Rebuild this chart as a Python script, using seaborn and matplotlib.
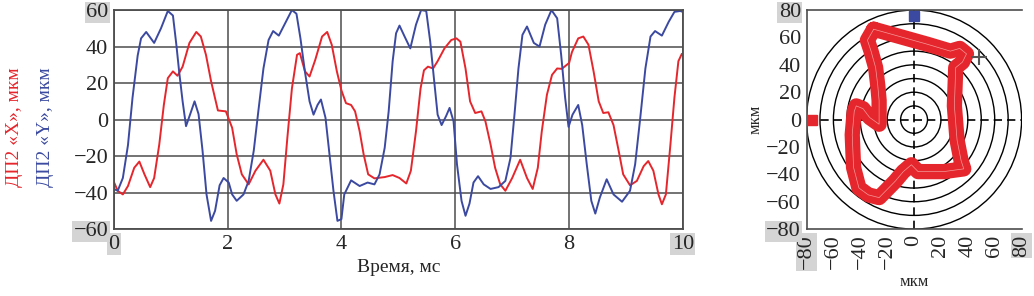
import matplotlib
matplotlib.use("Agg")
import matplotlib.pyplot as plt
from matplotlib.patches import Circle
import seaborn as sns

# left panel: sensor signals vs time (ms), values in um
t_red = [0, 0.07, 0.16, 0.25, 0.36, 0.45, 0.54, 0.64, 0.71, 0.80, 0.88, 0.95, 1.04, 1.12, 1.21,
         1.33, 1.45, 1.53, 1.62, 1.71, 1.83, 1.97, 2.08, 2.16, 2.25, 2.37, 2.49, 2.63, 2.75, 2.84,
         2.91, 2.98, 3.05, 3.13, 3.22, 3.27, 3.36, 3.44, 3.54, 3.66, 3.75, 3.83, 3.92, 4.0, 4.08,
         4.17, 4.24, 4.32, 4.39, 4.47, 4.58, 4.76, 4.90, 5.02, 5.14, 5.22, 5.31, 5.39, 5.45, 5.52,
         5.61, 5.69, 5.81, 5.93, 6.02, 6.09, 6.18, 6.26, 6.35, 6.46, 6.53, 6.62, 6.70, 6.79, 6.88,
         7.00, 7.14, 7.26, 7.36, 7.45, 7.52, 7.61, 7.70, 7.79, 7.87, 8.0, 8.05, 8.16, 8.25, 8.34,
         8.43, 8.52, 8.60, 8.69, 8.78, 8.87, 8.95, 9.07, 9.19, 9.31, 9.39, 9.48, 9.57, 9.63, 9.70,
         9.78, 9.85, 9.92, 9.98]
x_red = [-34, -39, -41, -36.4, -26.4, -23, -30, -37, -32, -13.6, 8, 22.7, 26.4, 24, 29,
         42, 48, 45.5, 35.5, 21, 5, 4.5, -4.5, -19, -30, -35.5, -28, -22, -28, -41,
         -46, -35.5, -10, 17, 35.5, 36.4, 26.4, 23.6, 32.7, 45.5, 48, 41, 26.4, 16, 9,
         8, 4.5, -6.4, -19, -30, -32.2, -31.5, -30.4, -32, -35, -28, -6.4, 17, 27, 29,
         28, 32, 39, 43.6, 44.5, 42.7, 28, 10, 3.6, 4.5, -1, -13.6, -26.4, -35.5, -39,
         -32, -22, -32, -38, -26.4, -6.4, 13.6, 24.5, 28, 27.8, 31, 37, 44.5, 45.5, 41,
         26.4, 10, 3.6, 4, -3, -17, -30, -36, -33.6, -25.5, -22.7, -28, -41, -46.4, -41,
         -13.6, 12, 32, 36]

t_blue = [0, 0.07, 0.16, 0.25, 0.33, 0.42, 0.48, 0.57, 0.71, 0.83, 0.95, 1.04, 1.10, 1.15, 1.21,
          1.27, 1.36, 1.42, 1.49, 1.56, 1.63, 1.71, 1.78, 1.86, 1.93, 2.02, 2.08, 2.16, 2.28, 2.37,
          2.46, 2.54, 2.63, 2.72, 2.80, 2.90, 3.01, 3.13, 3.21, 3.28, 3.36, 3.44, 3.51, 3.58, 3.64,
          3.72, 3.79, 3.86, 3.93, 4.0, 4.05, 4.17, 4.32, 4.46, 4.58, 4.67, 4.76, 4.83, 4.90, 4.96,
          5.02, 5.11, 5.21, 5.31, 5.40, 5.49, 5.56, 5.63, 5.69, 5.76, 5.84, 5.90, 5.97, 6.03, 6.11,
          6.18, 6.25, 6.32, 6.40, 6.50, 6.62, 6.76, 6.88, 6.97, 7.04, 7.11, 7.18, 7.26, 7.38, 7.48,
          7.58, 7.69, 7.79, 7.86, 7.93, 7.99, 8.06, 8.16, 8.23, 8.31, 8.39, 8.46, 8.54, 8.66, 8.78,
          8.93, 9.07, 9.16, 9.25, 9.34, 9.43, 9.51, 9.63, 9.75, 9.85, 9.95, 10.0]
y_blue = [-38, -39, -32, -14, 12, 35, 44.5, 48, 42, 50, 59.5, 57, 41, 26, 10,
          -3.6, 4.5, 10, 3, -17, -41, -55.5, -50, -36, -32, -34.5, -41, -44.5, -41, -33.6,
          -17, 4.5, 28, 43.6, 48.5, 46, 52.7, 60, 58, 44.5, 26, 10, 2.7, 8, 11,
          1, -19, -39, -55.5, -54.5, -41, -33.3, -36.4, -34.5, -35.5, -30, -15.5, 4.5, 32, 47.3,
          51.5, 45.5, 39, 52, 60, 59.5, 42.7, 21, 2.7, -3, 2, 6.4, -1, -24.5, -44.5,
          -52.7, -46, -34.5, -31, -35.5, -38, -37, -33.6, -21, 2.7, 28, 46.4, 51, 42, 40,
          52, 60, 55.5, 35.5, 12, -4, 2.7, 8, -3, -24.5, -44.5, -51.5, -42.7, -32.7, -41,
          -45, -39, -24.5, 1, 28, 45.5, 48.5, 46, 53.6, 59, 59.5, 59]

# right panel: X-Y orbit (um)
orbit_x = [-30, -10, 10, 27, 34, 39, 36, 31, 30, 32, 35, 37, 22, 3, -2, -8, -14, -20, -26, -34,
           -41, -45, -46, -44.5, -43, -38, -33, -26, -26, -27, -28.6, -32, -34.7, -30]
orbit_y = [66, 60.5, 55, 50, 52, 48, 42, 38, 10, -15, -30, -36, -38, -38, -33, -38, -45, -51, -57, -55,
           -50, -35, -11, 6, 10, 8, 1.5, -3.4, 14, 25, 38, 50, 58, 66]
ring_radii = [10, 20, 30, 40, 50, 60, 70, 80]

RED = "#e5262c"
BLUE = "#3b4aa0"
GRID = "#4d4d4d"

sns.set_theme(style="white")
plt.rcParams["font.family"] = ["Liberation Serif", "DejaVu Serif"]
plt.rcParams["axes.unicode_minus"] = True

fig = plt.figure(figsize=(10.34, 2.96), dpi=100)
ax = fig.add_axes([0.110, 0.226, 0.5505, 0.740])
ax2 = fig.add_axes([0.780, 0.226, 0.208, 0.740])

# left: time series
sns.lineplot(x=t_red, y=x_red, ax=ax, color=RED, lw=1.4, sort=False, estimator=None)
sns.lineplot(x=t_blue, y=y_blue, ax=ax, color=BLUE, lw=1.4, sort=False, estimator=None)
ax.set_xlim(0, 10)
ax.set_ylim(-60, 60)
ax.set_xticks(range(0, 11, 2))
ax.set_yticks(range(-60, 61, 20))
ax.grid(True, color=GRID, lw=1.1)
for s in ax.spines.values():
    s.set_color(GRID)
    s.set_linewidth(1.3)
ax.tick_params(labelsize=16, length=3, direction="out", color=GRID, pad=1)
ax.set_xlabel("Время, мс", fontsize=14, labelpad=4)
ax.set_ylabel("")

fig.text(0.014, 0.57, "ДП2 «X», мкм", color=RED, rotation=90, fontsize=14,
         ha="center", va="center")
fig.text(0.044, 0.57, "ДП2 «Y», мкм", color=BLUE, rotation=90, fontsize=14,
         ha="center", va="center")

# right: orbit
for r in ring_radii:
    ax2.add_patch(Circle((0, 0), r, fill=False, ec="black", lw=1.0, zorder=1))
ax2.axhline(0, color="black", lw=1.2, ls=(0, (5, 3)), zorder=1)
ax2.axvline(0, color="black", lw=1.2, ls=(0, (5, 3)), zorder=1)
sns.lineplot(x=orbit_x, y=orbit_y, ax=ax2, color=RED, lw=11, sort=False, estimator=None,
             solid_joinstyle="round", solid_capstyle="round", zorder=3)
sns.lineplot(x=orbit_x, y=orbit_y, ax=ax2, color="#f49a9a", lw=0.5, sort=False,
             estimator=None, zorder=4)
ax2.plot([48], [46], marker="+", ms=12, mew=1.5, color="#555555", zorder=5)
ax2.plot([0], [76], marker="s", ms=7, color=BLUE, zorder=5)
ax2.plot([-76], [0], marker="s", ms=7, color=RED, zorder=5)
ax2.set_xlim(-80, 80)
ax2.set_ylim(-80, 80)
ax2.set_xticks(range(-80, 81, 20))
ax2.set_yticks(range(-80, 81, 20))
ax2.tick_params(axis="x", labelrotation=90)
ax2.tick_params(labelsize=16, length=3, direction="out", color=GRID, pad=1)
ax2.spines["right"].set_visible(False)
for s in ["left", "bottom", "top"]:
    ax2.spines[s].set_color(GRID)
    ax2.spines[s].set_linewidth(1.2)
ax2.set_xlabel("мкм", fontsize=12, labelpad=3)
ax2.set_ylabel("мкм", fontsize=12, labelpad=2)

# grey highlight boxes behind some tick labels, as in the source
fig.canvas.draw()
hl = dict(facecolor="#d4d4d4", edgecolor="none", pad=1)
for lab in ax.get_yticklabels():
    if lab.get_text().replace("\u2212", "-") in ("60", "-60"):
        lab.set_bbox(hl)
for lab in ax.get_xticklabels():
    if lab.get_text() in ("0", "10"):
        lab.set_bbox(hl)
for lab in ax2.get_yticklabels() + ax2.get_xticklabels():
    if lab.get_text().replace("\u2212", "-") in ("80", "-80"):
        lab.set_bbox(hl)

fig.savefig("out.png", dpi=100)
